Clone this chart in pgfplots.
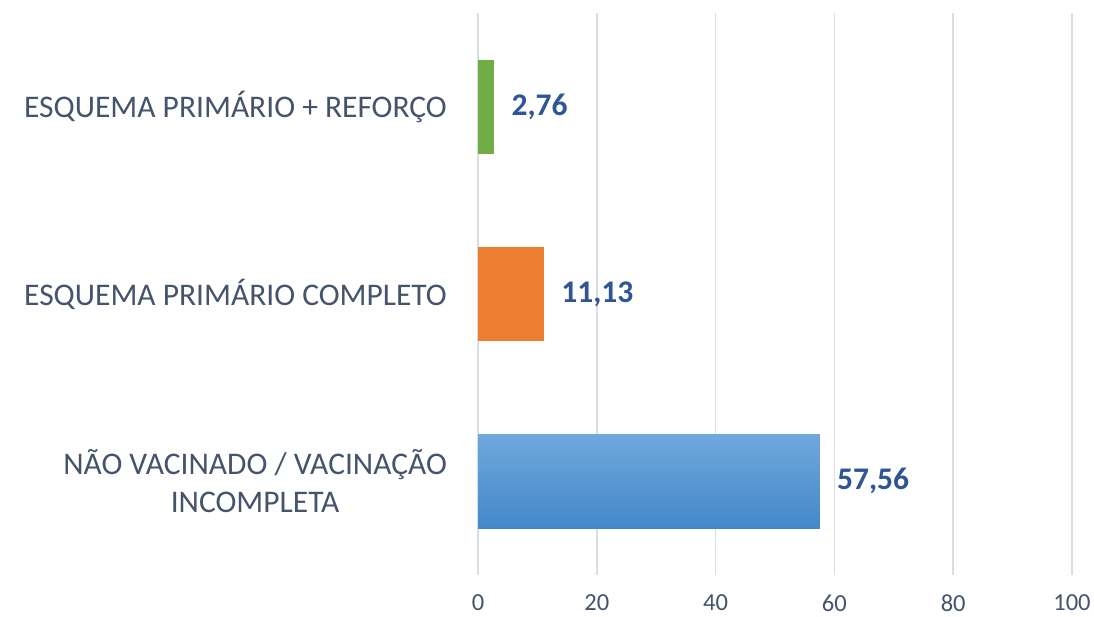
\documentclass[border=0pt]{standalone}
\usepackage{pgfplots}
\pgfplotsset{compat=1.18}
\usepackage{fontspec}
\setmainfont{Carlito}
\definecolor{catgray}{HTML}{44546A}
\definecolor{labblue}{HTML}{2F5597}
\definecolor{gridc}{HTML}{D9DEE6}
\definecolor{barg}{HTML}{70AD47}
\definecolor{baro}{HTML}{ED7D31}
\definecolor{bartop}{HTML}{70A8DD}
\definecolor{barbot}{HTML}{4487C9}
\begin{document}
\begin{tikzpicture}
\path[use as bounding box] (0,0) rectangle (1094pt,616pt);
\begin{axis}[
 at={(478pt,41pt)}, anchor=south west,
 width=594pt, height=562pt, scale only axis,
 xbar, bar width=94pt, bar shift=0pt,
 xmin=0, xmax=100, ymin=-0.5, ymax=2.5,
 xtick={0,20,...,100}, ytick={0,1,2},
 yticklabels={{NÃO VACINADO / VACINAÇÃO\\INCOMPLETA},{ESQUEMA PRIMÁRIO COMPLETO},{ESQUEMA PRIMÁRIO + REFORÇO}},
 axis line style={draw=none}, major tick length=0pt,
 xmajorgrids, grid style={gridc, line width=1.5pt},
 /pgf/number format/assume math mode=true,
 xticklabel style={font=\fontsize{24.5}{29}\selectfont, text=catgray, anchor=center, yshift=-28pt, inner sep=0pt},
 yticklabel style={font=\fontsize{31.5}{38}\selectfont, text=catgray, align=center, inner sep=0pt, xshift=-31pt, anchor=east},
 point meta=explicit symbolic,
 nodes near coords,
 every node near coord/.append style={font=\bfseries\fontsize{31.5}{38}\selectfont, text=labblue, anchor=west, inner sep=0pt, xshift=17pt},
]
\addplot[draw=none, top color=bartop, bottom color=barbot] coordinates {(57.56,0) [57,56]};
\addplot[draw=none, fill=baro] coordinates {(11.13,1) [11,13]};
\addplot[draw=none, fill=barg] coordinates {(2.76,2) [2,76]};
\end{axis}
\end{tikzpicture}
\end{document}
